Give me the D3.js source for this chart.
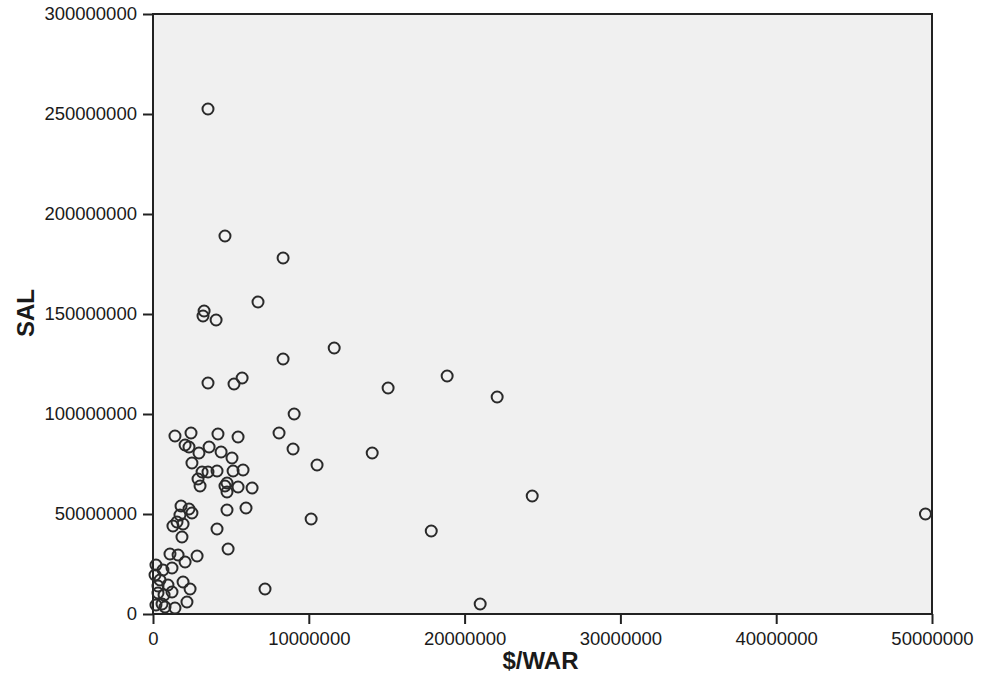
<!DOCTYPE html>
<html>
<head>
    <meta charset="utf-8">
    <script src="https://d3js.org/d3.v7.min.js"></script>
    <style>
        body {
            margin: 0;
            background: #fff;
            font-family: 'Liberation Sans', Arial, sans-serif;
        }
        .tick text {
            font-size: 18.5px;
            fill: #1a1a1a;
        }
        .tick line {
            stroke: #222;
            stroke-width: 2;
        }
    </style>
</head>

<body>
    <div id="my_dataviz"></div>
</body>
<script>
  // $/WAR values (x), in dollars
  const perWar = [
    3.53e6, 4.62e6, 8.35e6, 6.74e6, 3.28e6, 3.21e6, 4.05e6, 11.63e6, 8.35e6, 3.53e6,
    5.20e6, 5.72e6, 15.09e6, 18.88e6, 22.09e6, 9.06e6, 8.09e6, 8.99e6, 14.07e6, 10.53e6,
    24.34e6, 10.15e6, 17.86e6, 21.00e6, 7.19e6, 49.58e6, 5.97e6, 4.75e6, 4.82e6, 4.11e6,
    6.36e6,
    1.41e6, 2.44e6, 4.17e6, 5.46e6, 2.06e6, 2.31e6, 2.95e6, 3.60e6, 4.37e6, 5.07e6,
    2.50e6, 3.15e6, 3.53e6, 4.11e6, 5.14e6, 5.78e6, 2.89e6, 3.02e6, 4.62e6, 4.75e6,
    5.46e6, 4.75e6,
    1.80e6, 2.31e6, 2.50e6, 1.73e6, 1.28e6, 1.93e6, 1.54e6, 1.86e6,
    1.09e6, 1.61e6, 2.06e6, 2.83e6, 0.64e6, 1.22e6, 0.19e6, 0.13e6, 0.45e6, 0.96e6,
    0.32e6, 1.93e6, 2.38e6, 0.32e6, 0.71e6, 1.22e6, 0.58e6, 0.19e6, 0.77e6, 1.41e6,
    2.18e6
  ];

  // SAL values (y), in dollars
  const salary = [
    252.5e6, 189e6, 178e6, 156e6, 151.5e6, 149e6, 147e6, 133e6, 127.5e6, 115.5e6,
    115e6, 118e6, 113e6, 119e6, 108.5e6, 100e6, 90.5e6, 82.5e6, 80.5e6, 74.5e6,
    59e6, 47.5e6, 41.5e6, 5e6, 12.5e6, 50e6, 53e6, 52e6, 32.5e6, 42.5e6,
    63e6,
    89e6, 90.5e6, 90e6, 88.5e6, 84.5e6, 83.5e6, 80.5e6, 83.5e6, 81e6, 78e6,
    75.5e6, 71e6, 71e6, 71.5e6, 71.5e6, 72e6, 67.5e6, 64e6, 64e6, 61e6,
    63.5e6, 65.5e6,
    54e6, 52.5e6, 50.5e6, 49.5e6, 44e6, 45e6, 46e6, 38.5e6,
    30e6, 29.5e6, 26e6, 29e6, 22e6, 23e6, 24.5e6, 19.5e6, 17e6, 14.5e6,
    14e6, 16e6, 12.5e6, 10.5e6, 9.5e6, 11e6, 5e6, 4.5e6, 3.5e6, 3e6,
    6e6
  ];

  const xTicks = [0, 10000000, 20000000, 30000000, 40000000, 50000000];
  const yTicks = [0, 50000000, 100000000, 150000000, 200000000, 250000000, 300000000];

  const data = perWar.map((v, i) => ({war: v, sal: salary[i]}));

  // set the dimensions and margins of the graph
  var margin = {top: 14, right: 49, bottom: 74, left: 153},
      width = 981 - margin.left - margin.right,
      height = 688 - margin.top - margin.bottom;

  let svg = d3.select("#my_dataviz")
    .append("svg")
      .attr("width", width + margin.left + margin.right)
      .attr("height", height + margin.top + margin.bottom)
    .append("g")
      .attr("transform", `translate(${margin.left},${margin.top})`);

  let x = d3.scaleLinear()
    .domain([0, 50000000])
    .range([0, width]);

  let y = d3.scaleLinear()
    .domain([0, 300000000])
    .range([height, 0]);

  // plot background + frame
  svg.append("rect")
    .attr("width", width)
    .attr("height", height)
    .attr("fill", "#f0f0f0")
    .attr("stroke", "#222")
    .attr("stroke-width", 2);

  let xAxis = svg.append("g")
    .attr("transform", `translate(0,${height})`)
    .call(d3.axisBottom(x).tickValues(xTicks).tickFormat(d3.format("d"))
      .tickSize(10).tickPadding(8).tickSizeOuter(0))
    .call(g => g.select(".domain").remove());

  let yAxis = svg.append("g")
    .call(d3.axisLeft(y).tickValues(yTicks).tickFormat(d3.format("d"))
      .tickSize(10).tickPadding(6).tickSizeOuter(0))
    .call(g => g.select(".domain").remove());

  // axis titles
  svg.append("text")
    .attr("x", x(25000000) - 2)
    .attr("y", 655)
    .attr("text-anchor", "middle")
    .attr("font-size", 24)
    .attr("font-weight", "bold")
    .attr("fill", "#1a1a1a")
    .text("$/WAR");

  svg.append("text")
    .attr("transform", `translate(${34 - margin.left},${313 - margin.top}) rotate(-90)`)
    .attr("text-anchor", "middle")
    .attr("font-size", 24)
    .attr("font-weight", "bold")
    .attr("fill", "#1a1a1a")
    .text("SAL");

  // dots
  svg.append("g")
    .selectAll("circle")
    .data(data)
    .join("circle")
      .attr("cx", d => x(d.war))
      .attr("cy", d => y(d.sal))
      .attr("r", 5.5)
      .attr("fill", "none")
      .attr("stroke", "#2a2a2a")
      .attr("stroke-width", 2);
</script>
</html>
